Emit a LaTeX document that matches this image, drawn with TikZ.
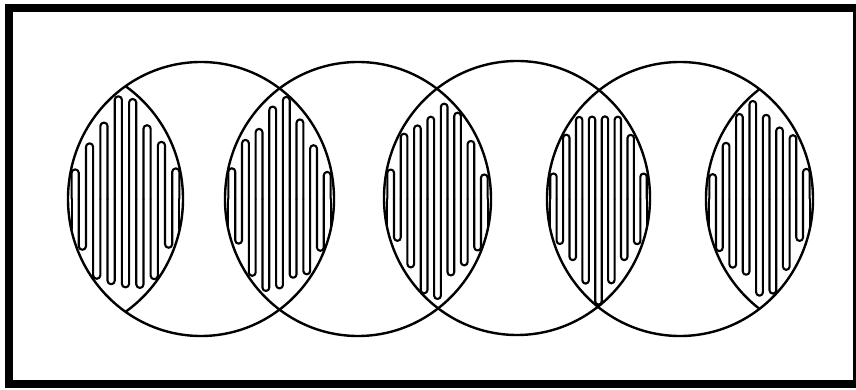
\documentclass[tikz,border=0pt]{standalone}
\newcommand{\crx}{133}
\newcommand{\cry}{137}
\tikzset{
  ring/.style={line width=2.4pt},
  hatchline/.style={line width=2.1pt,line join=round,line cap=round}
}
% #1 left ellipse centre x, #2 right ellipse centre x, #3 centre y, #4 strokes (even), #5 seed
\newcommand{\lensfill}[5]{%
  \pgfmathsetmacro{\mL}{#2-\crx}%
  \pgfmathsetmacro{\mR}{#1+\crx}%
  \pgfmathsetmacro{\mw}{(\mR-\mL)/#4}%
  \pgfmathsetmacro{\mrc}{0.48*\mw}%
  \pgfmathtruncatemacro{\mlast}{#4-2}%
  \pgfmathsetmacro{\xs}{\mL+0.5*\mw}%
  \pgfmathsetmacro{\ys}{#3-0.95*\cry*sqrt(max(0,1-((#2-\xs)/\crx)^2))}%
  \pgfmathsetmacro{\xe}{\mL+(#4-0.5)*\mw}%
  \pgfmathsetmacro{\ye}{#3-0.95*\cry*sqrt(max(0,1-((\xe-#1)/\crx)^2))}%
  \draw[hatchline] (\xs,\ys) -- (\xs,#3);
  \draw[hatchline] (\xe,\ye) -- (\xe,#3);
  \foreach \kk in {0,...,\mlast}{%
    \pgfmathsetmacro{\mxa}{\mL+(\kk+0.5)*\mw}%
    \pgfmathsetmacro{\mxb}{\mL+(\kk+1.5)*\mw}%
    \pgfmathsetmacro{\mdd}{max(\mxb-#1,#2-\mxa)/\crx}%
    \pgfmathsetmacro{\mhh}{\cry*sqrt(max(0,1-\mdd*\mdd))}%
    \pgfmathsetmacro{\mty}{#3+(1-2*mod(\kk,2))*(0.9+0.1*sin(\kk*137+#5))*\mhh}%
    \draw[hatchline,rounded corners=\mrc pt] (\mxa,#3) -- (\mxa,\mty) -- (\mxb,\mty) -- (\mxb,#3);
  }%
}
\begin{document}
\begin{tikzpicture}[x=1pt,y=1pt]
\useasboundingbox (0,0) rectangle (856,390);
\fill[white] (0,0) rectangle (856,390);
% frame
\fill[black] (5,2) rectangle (856,386);
\fill[white] (13,10) rectangle (853,378);
% hatched lenses
\begin{scope}
  \clip (50,191) ellipse [x radius=133pt, y radius=137pt];
  \clip (201,191) ellipse [x radius=133pt, y radius=137pt];
  \lensfill{50}{201}{191}{16}{20}
\end{scope}
\begin{scope}
  \clip (201,191) ellipse [x radius=133pt, y radius=137pt];
  \clip (358,191) ellipse [x radius=133pt, y radius=137pt];
  \lensfill{201}{358}{191}{16}{75}
\end{scope}
\begin{scope}
  \clip (358,191) ellipse [x radius=133pt, y radius=137pt];
  \clip (517,192) ellipse [x radius=133pt, y radius=137pt];
  \lensfill{358}{517}{191}{16}{140}
\end{scope}
\begin{scope}
  \clip (517,192) ellipse [x radius=133pt, y radius=137pt];
  \clip (680,191) ellipse [x radius=133pt, y radius=137pt];
  \lensfill{517}{680}{191}{16}{210}
\end{scope}
\begin{scope}
  \clip (680,191) ellipse [x radius=133pt, y radius=137pt];
  \clip (839,191) ellipse [x radius=133pt, y radius=137pt];
  \lensfill{680}{839}{191}{16}{300}
\end{scope}
% inner arcs of the end lenses
\begin{scope}
  \clip (201,191) ellipse [x radius=133pt, y radius=137pt];
  \draw[ring] (50,191) ellipse [x radius=133pt, y radius=137pt];
\end{scope}
\begin{scope}
  \clip (680,191) ellipse [x radius=133pt, y radius=137pt];
  \draw[ring] (839,191) ellipse [x radius=133pt, y radius=137pt];
\end{scope}
% circles
\draw[ring] (201,191) ellipse [x radius=133pt, y radius=137pt];
\draw[ring] (358,191) ellipse [x radius=133pt, y radius=137pt];
\draw[ring] (517,192) ellipse [x radius=133pt, y radius=137pt];
\draw[ring] (680,191) ellipse [x radius=133pt, y radius=137pt];
\end{tikzpicture}
\end{document}
